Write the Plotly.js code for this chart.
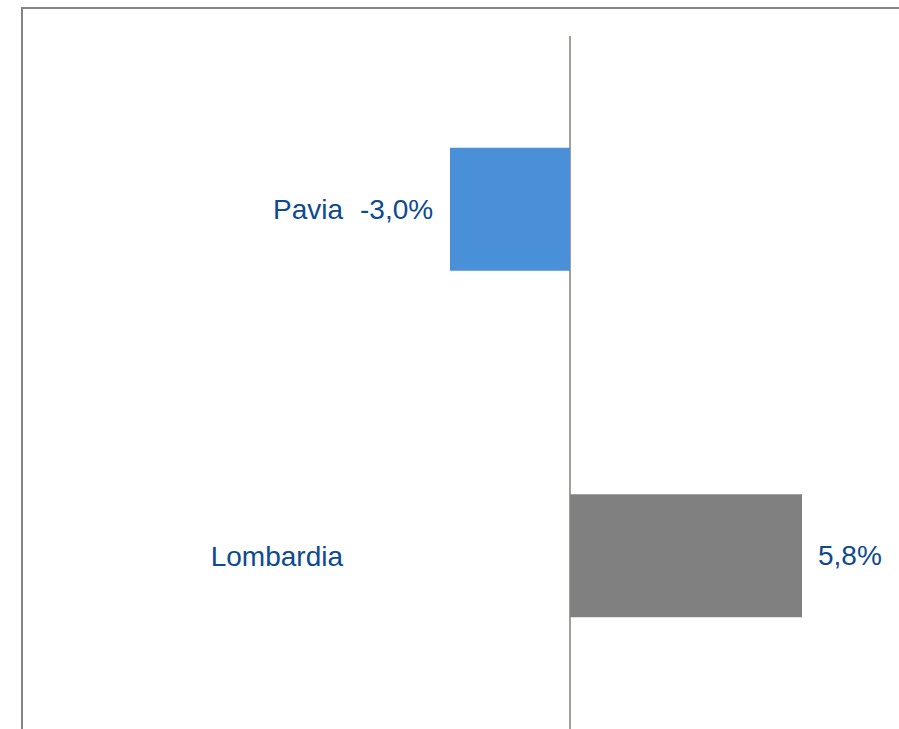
<!DOCTYPE html>
<html>
<head>
<meta charset="utf-8">
<script src="https://cdn.plot.ly/plotly-3.0.1.min.js"></script>
<style>
  html, body { margin: 0; padding: 0; background: #ffffff; }
  #wrap { position: relative; width: 899px; height: 729px; overflow: hidden; }
  #chart { position: absolute; left: 0; top: 0; width: 899px; height: 729px; }
  #frame { position: absolute; left: 21px; top: 7px; width: 900px; height: 730px;
           border-left: 2px solid #858585; border-top: 2px solid #858585; pointer-events: none; }
</style>
</head>
<body>
<div id="wrap">
  <div id="chart"></div>
  <div id="frame"></div>
</div>
<script>
const categories = ["Pavia", "Lombardia"];
const values = [-3.0, 5.8];
const barColors = ["#4a90d9", "#808080"];

function fmt(v) { return v.toFixed(1).replace(".", ",") + "%"; }

const textColor = "#0d4a8f";
const fontFamily = "Liberation Sans, Arial, sans-serif";
const fontSize = 28;

const trace = {
  type: "bar",
  orientation: "h",
  y: categories,
  x: values,
  marker: { color: barColors, line: { width: 0 } },
  width: 0.355,
  hoverinfo: "none"
};

const annotations = values.map((v, i) => ({
  x: v,
  y: categories[i],
  xref: "x",
  yref: "y",
  text: fmt(v),
  showarrow: false,
  xanchor: v < 0 ? "right" : "left",
  xshift: v < 0 ? -15 : 14,
  font: { family: fontFamily, size: fontSize, color: textColor }
}));

const layout = {
  width: 899,
  height: 729,
  margin: { l: 350, r: 0, t: 36, b: 0, pad: 0 },
  paper_bgcolor: "#ffffff",
  plot_bgcolor: "#ffffff",
  showlegend: false,
  separators: ",.",
  xaxis: {
    range: [-5.5, 8.225],
    showgrid: false,
    showticklabels: false,
    ticks: "",
    zeroline: true,
    zerolinecolor: "#a09f98",
    zerolinewidth: 1.5,
    showline: false,
    fixedrange: true
  },
  yaxis: {
    type: "category",
    autorange: false,
    range: [1.5, -0.5],
    showgrid: false,
    zeroline: false,
    showline: false,
    ticks: "",
    ticklabelstandoff: 6,
    tickfont: { family: fontFamily, size: fontSize, color: textColor },
    fixedrange: true
  },
  annotations: annotations
};

Plotly.newPlot("chart", [trace], layout, { displayModeBar: false, staticPlot: true });
</script>
</body>
</html>
